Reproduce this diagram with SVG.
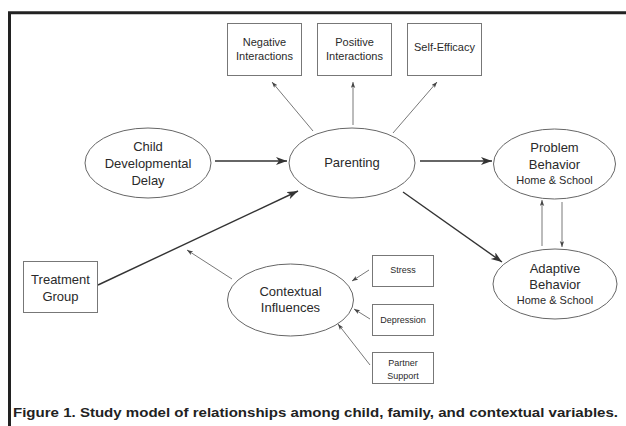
<svg xmlns="http://www.w3.org/2000/svg" width="626" height="426" viewBox="0 0 626 426">
<style>
text{font-family:"Liberation Sans",Arial,sans-serif;fill:#2a2a2a;text-anchor:middle}
.box{fill:#fff;stroke:#777;stroke-width:1}
.ell{fill:#fff;stroke:#666;stroke-width:1}
.t13{font-size:13px}
.t11{font-size:11px}
.t9{font-size:9px}
.thick{stroke:#333;stroke-width:1.4;fill:none;marker-end:url(#big)}
.thin{stroke:#555;stroke-width:0.8;fill:none;marker-end:url(#small)}
</style>
<defs>
<marker id="big" markerUnits="userSpaceOnUse" markerWidth="12" markerHeight="10" refX="11" refY="4" orient="auto">
<path d="M0,0 L11,4 L0,8 L3,4 z" fill="#333"/>
</marker>
<marker id="small" markerUnits="userSpaceOnUse" markerWidth="8" markerHeight="6" refX="6" refY="2.2" orient="auto">
<path d="M0,0 L6,2.2 L0,4.4 L1.5,2.2 z" fill="#444"/>
</marker>
</defs>
<rect width="626" height="426" fill="#fff"/>
<path d="M9.5,426 V12.7 H626" fill="none" stroke="#222" stroke-width="3"/>

<g id="connectors">
<line class="thick" x1="215" y1="161" x2="287" y2="161"/>
<line class="thick" x1="420" y1="161" x2="492" y2="161"/>
<line class="thick" x1="98" y1="285" x2="298" y2="191"/>
<line class="thick" x1="403" y1="192" x2="502" y2="262"/>
<line class="thin" x1="313" y1="131" x2="272" y2="82"/>
<line class="thin" x1="353" y1="125" x2="353" y2="82"/>
<line class="thin" x1="393" y1="133" x2="437" y2="82"/>
<line class="thin" x1="542" y1="246" x2="542" y2="200"/>
<line class="thin" x1="562" y1="202" x2="562" y2="247"/>
<line class="thin" x1="232" y1="279" x2="187" y2="250"/>
<line class="thin" x1="369" y1="270" x2="352" y2="281"/>
<line class="thin" x1="370" y1="319" x2="354" y2="309"/>
<line class="thin" x1="370" y1="365" x2="338" y2="324"/>
</g>

<g id="negative">
<rect class="box" x="227.5" y="23.5" width="74" height="52"/>
<text class="t11" x="264.5" y="45.5">Negative</text>
<text class="t11" x="264.5" y="59.5">Interactions</text>
</g>
<g id="positive">
<rect class="box" x="317.5" y="23.5" width="74" height="52"/>
<text class="t11" x="354.5" y="45.5">Positive</text>
<text class="t11" x="354.5" y="59.5">Interactions</text>
</g>
<g id="selfefficacy">
<rect class="box" x="407.5" y="23.5" width="74" height="52"/>
<text class="t11" x="444.5" y="50.5">Self-Efficacy</text>
</g>

<g id="child">
<ellipse class="ell" cx="148" cy="163" rx="63" ry="35"/>
<text class="t13" x="148" y="151">Child</text>
<text class="t13" x="148" y="168">Developmental</text>
<text class="t13" x="148" y="185">Delay</text>
</g>
<g id="parenting">
<ellipse class="ell" cx="352" cy="163" rx="63" ry="35"/>
<text class="t13" x="352" y="167">Parenting</text>
</g>
<g id="problem">
<ellipse class="ell" cx="554.5" cy="164" rx="61" ry="35"/>
<text class="t13" x="554.5" y="152">Problem</text>
<text class="t13" x="554.5" y="168.5">Behavior</text>
<text class="t11" x="554.5" y="183.5">Home &amp; School</text>
</g>
<g id="adaptive">
<ellipse class="ell" cx="555" cy="284" rx="62" ry="35"/>
<text class="t13" x="555" y="273">Adaptive</text>
<text class="t13" x="555" y="289">Behavior</text>
<text class="t11" x="555" y="304">Home &amp; School</text>
</g>
<g id="treatment">
<rect class="box" x="23.5" y="261.5" width="74" height="51"/>
<text class="t13" x="60.5" y="284">Treatment</text>
<text class="t13" x="60.5" y="300.5">Group</text>
</g>
<g id="contextual">
<ellipse class="ell" cx="290.5" cy="300" rx="63" ry="36"/>
<text class="t13" x="290.5" y="296.3">Contextual</text>
<text class="t13" x="290.5" y="311.5">Influences</text>
</g>
<g id="stress">
<rect class="box" x="372.5" y="255.5" width="61" height="31"/>
<text class="t9" x="403" y="273">Stress</text>
</g>
<g id="depression">
<rect class="box" x="372.5" y="304.5" width="61" height="31"/>
<text class="t9" x="403" y="322.5">Depression</text>
</g>
<g id="partner">
<rect class="box" x="372.5" y="352.5" width="61" height="31"/>
<text class="t9" x="403" y="366">Partner</text>
<text class="t9" x="403" y="378.5">Support</text>
</g>

<text x="13" y="417" style="font-size:13px;font-weight:bold;text-anchor:start;fill:#222" textLength="605" lengthAdjust="spacingAndGlyphs">Figure 1. Study model of relationships among child, family, and contextual variables.</text>
</svg>
